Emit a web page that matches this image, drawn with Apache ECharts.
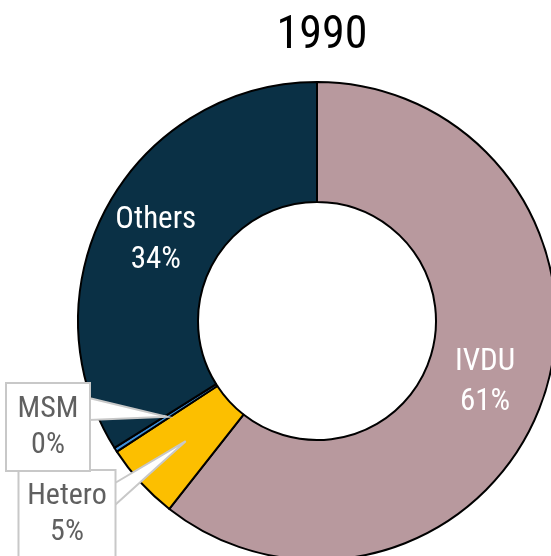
<!DOCTYPE html>
<html><head><meta charset="utf-8">
<script src="https://cdn.jsdelivr.net/npm/echarts@6/dist/echarts.min.js"></script>
<style>html,body{margin:0;padding:0;background:#fff}#c{width:551px;height:556px}</style>
</head><body><div id="c"></div>
<script>
const title = '1990';
const categories = ['IVDU', 'Hetero', 'MSM', 'Others'];
const values = [60.6, 5.2, 0.3, 33.9];
const colors = ['#b8999e', '#fcbf00', '#3d8fd8', '#0a3045'];
const FONT = "'Roboto Condensed', 'Liberation Sans Narrow', 'DejaVu Sans Condensed', 'Arial Narrow', Roboto, sans-serif";

const CX = 317, CY = 321, R_IN = 119, R_OUT = 239, R_MID = 178;
const chart = echarts.init(document.getElementById('c'), null, {renderer: 'canvas'});
const pct = v => Math.round(v) + '%';
const calloutPos = { 'MSM': {x: 48, y: 427, w: 66, right: 89, t0: 398, t1: 420},
                     'Hetero': {x: 67, y: 514, w: 79, right: 115, t0: 483, t1: 505} };

// anchor of callout tails: mid-angle of slice at mid radius (derived from data)
const total = values.reduce((a, b) => a + b, 0);
function anchor(idx) {
  let before = 0;
  for (let i = 0; i < idx; i++) before += values[i];
  const a = (before + values[idx] / 2) / total * 2 * Math.PI; // clockwise from top
  return [CX + R_MID * Math.sin(a), CY - R_MID * Math.cos(a)];
}
const tails = ['MSM', 'Hetero'].map(n => {
  const c = calloutPos[n];
  const p = anchor(categories.indexOf(n));
  return { type: 'polygon', z: 4,
    shape: { points: [[c.right, c.t0], p, [c.right, c.t1]] },
    style: { fill: '#fff', stroke: '#c8c8c8', lineWidth: 2 } };
});

chart.setOption({
  animation: false,
  title: { text: title, left: 317, top: 8, textAlign: 'center',
    textStyle: { fontFamily: FONT, fontSize: 46, fontWeight: 'normal', color: '#000' } },
  graphic: tails,
  series: [
    {
      type: 'pie', center: [CX, CY], radius: [R_IN, R_OUT], startAngle: 90, clockwise: true,
      avoidLabelOverlap: false, z: 2,
      itemStyle: { borderColor: '#000', borderWidth: 2 },
      data: categories.map((n, i) => ({
        name: n, value: values[i], itemStyle: { color: colors[i] },
        label: (n === 'IVDU' || n === 'Others') ? {
          show: true, position: 'inside', color: '#fff', fontFamily: FONT, fontSize: 31, lineHeight: 40,
          offset: n === 'Others' ? [-2, 7] : [-4, 2],
          formatter: p => p.name + '\n' + pct(p.value)
        } : { show: false }
      })),
      labelLine: { show: false }
    },
    {
      type: 'pie', center: [CX, CY], radius: [0, R_MID], startAngle: 90, clockwise: true,
      avoidLabelOverlap: false, silent: true, z: 5,
      itemStyle: { color: 'rgba(0,0,0,0)', borderWidth: 0 },
      data: categories.map((n, i) => ({
        name: n, value: values[i],
        label: (n === 'MSM' || n === 'Hetero') ? {
          show: true, position: 'outside', color: '#606060', fontFamily: FONT, fontSize: 30, lineHeight: 36,
          backgroundColor: '#fff', borderColor: '#c8c8c8', borderWidth: 2,
          width: calloutPos[n].w, overflow: 'none', padding: [7, 8], align: 'center',
          formatter: p => p.name + '\n' + pct(p.value)
        } : { show: false },
        labelLine: { show: false }
      })),
      labelLayout: function (params) {
        const name = categories[params.dataIndex];
        const p = calloutPos[name];
        if (!p) return {};
        return { x: p.x, y: p.y, align: 'center', verticalAlign: 'middle' };
      }
    }
  ]
});
</script></body></html>
